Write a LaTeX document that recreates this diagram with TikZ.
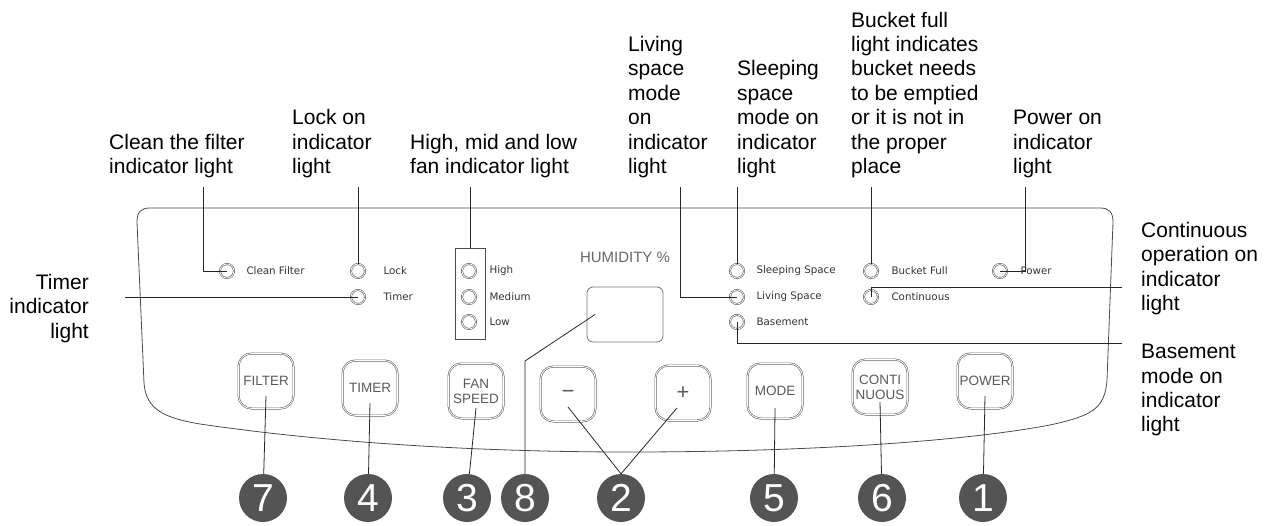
\documentclass[tikz,border=0pt]{standalone}
\usepackage{fontspec}
\setmainfont{Liberation Sans}
\newfontfamily\panelfont{DejaVu Sans}
\usetikzlibrary{positioning}

\begin{document}
\begin{tikzpicture}[x=1pt,y=-1pt,
    lbl/.style={font=\fontsize{21}{24.4}\selectfont,align=left,inner sep=0pt},
    led/.style={circle,draw=black!65,line width=0.6pt,double=white,double distance=0.7pt,minimum size=14pt,inner sep=0pt},
    ledtxt/.style={font=\panelfont\fontsize{10.3}{12}\selectfont,text=black!80,inner sep=0pt},
    btn/.style={draw=black!60,line width=0.6pt,double=white,double distance=0.8pt,rounded corners=13pt,
      minimum width=55pt,minimum height=55pt,align=center,inner sep=0pt,text=black!65,
      font=\fontsize{13.5}{16}\selectfont},
    num/.style={circle,fill=black!67,text=white,minimum size=48pt,inner sep=0pt,font=\fontsize{39}{39}\selectfont},
    lead/.style={draw=black!85,line width=0.8pt}]
  \useasboundingbox (0,0) rectangle (1268,525);
  % Panel outline
  \draw[black!70,line width=0.8pt] (137,222) -- (144,383)
    .. controls (146,410) and (165,418) .. (200,424)
    .. controls (330,443) and (480,452) .. (630,452)
    .. controls (800,452) and (960,442) .. (1050,425)
    .. controls (1090,416) and (1105,410) .. (1107,380)
    -- (1113,222) .. controls (1113,212) and (1109,208) .. (1100,208)
    -- (150,208) .. controls (141,208) and (137,212) .. (137,222) -- cycle;
  % Callout texts
  \node[lbl,anchor=south west] (cleanlbl) at (109,178) {Clean the filter\\indicator light};
  \node[lbl,anchor=south west] (locklbl) at (292,178) {Lock on\\indicator\\light};
  \node[lbl,anchor=south west] (fanlbl) at (410,178) {High, mid and low\\fan indicator light};
  \node[lbl,anchor=south west] (livinglbl) at (628,178) {Living\\space\\mode\\on\\indicator\\light};
  \node[lbl,anchor=south west] (sleeplbl) at (737,178) {Sleeping\\space\\mode on\\indicator\\light};
  \node[lbl,anchor=south west] (bucketlbl) at (851,178) {Bucket full\\light indicates\\bucket needs\\to be emptied\\or it is not in\\the proper\\place};
  \node[lbl,anchor=south west] (powerlbl) at (1013,178) {Power on\\indicator\\light};
  \node[lbl,align=right,anchor=north east] (timerlbl) at (89,274) {Timer\\indicator\\light};
  \node[lbl,anchor=north west] (contlbl) at (1141,222) {Continuous\\operation on\\indicator\\light};
  \node[lbl,anchor=north west] (baselbl) at (1141,344) {Basement\\mode on\\indicator\\light};
  % Indicator lights
  \node[led] (cleanled) at (227,271) {};
  \node[led] (lockled) at (358,271) {};
  \node[led] (timerled) at (358,297) {};
  \node[draw=black!70,line width=0.8pt,minimum width=30pt,minimum height=91pt,inner sep=0pt] (fanbox) at (470,293.5) {};
  \node[led] (highled) at (469,271) {};
  \node[led] (medled) at (469,297) {};
  \node[led] (lowled) at (469,322) {};
  \node[led] (sleepled) at (737,271) {};
  \node[led] (livingled) at (737,297) {};
  \node[led] (baseled) at (737,322) {};
  \node[led] (bucketled) at (871,271) {};
  \node[led] (contled) at (871,297) {};
  \node[led] (powerled) at (1000,271) {};
  \node[ledtxt,right=12pt of cleanled] {Clean Filter};
  \node[ledtxt,right=18pt of lockled] {Lock};
  \node[ledtxt,right=18pt of timerled] {Timer};
  \node[ledtxt,right=13pt of highled] {High};
  \node[ledtxt,right=13pt of medled] {Medium};
  \node[ledtxt,right=13pt of lowled] {Low};
  \node[ledtxt,right=12pt of sleepled] {Sleeping Space};
  \node[ledtxt,right=12pt of livingled] {Living Space};
  \node[ledtxt,right=12pt of baseled] {Basement};
  \node[ledtxt,right=13pt of bucketled] {Bucket Full};
  \node[ledtxt,right=13pt of contled] {Continuous};
  \node[ledtxt,right=13pt of powerled] {Power};
  \node[text=black!60,font=\fontsize{15}{15}\selectfont,inner sep=0pt] (humid) at (625,257) {HUMIDITY \%};
  \node[draw=black!55,line width=0.8pt,rounded corners=6pt,minimum width=76pt,minimum height=55pt] (disp) at (625,314.5) {};
  % Buttons
  \node[btn] (filterbtn) at (266,381) {FILTER};
  \node[btn] (timerbtn) at (370,388) {TIMER};
  \node[btn,font=\fontsize{13.5}{15}\selectfont] (fanbtn) at (476,391) {FAN\\SPEED};
  \node[btn,font=\fontsize{22}{22}\selectfont] (minusbtn) at (568,394) {−};
  \node[btn,font=\fontsize{22}{22}\selectfont] (plusbtn) at (683,393) {+};
  \node[btn] (modebtn) at (775,391) {MODE};
  \node[btn,font=\fontsize{13.5}{15}\selectfont] (contbtn) at (880,387) {CONTI\\NUOUS};
  \node[btn] (powerbtn) at (985,381) {POWER};
  % Numbered markers
  \node[num] (n7) at (263,498) {7};
  \node[num] (n4) at (368,498) {4};
  \node[num] (n3) at (467,498) {3};
  \node[num] (n8) at (525,498) {8};
  \node[num] (n2) at (621,498) {2};
  \node[num] (n5) at (774,498) {5};
  \node[num] (n6) at (882,498) {6};
  \node[num] (n1) at (983,498) {1};
  % Leader lines
  \coordinate (cleantop) at (203,187);
  \coordinate (locktop) at (358,187);
  \coordinate (fantop) at (470,187);
  \coordinate (livingtop) at (680,187);
  \coordinate (sleeptop) at (737,187);
  \coordinate (buckettop) at (871,187);
  \coordinate (powertop) at (1025,187);
  \coordinate (timerend) at (125,297);
  \coordinate (contend) at (1122,287);
  \coordinate (baseend) at (1122,343);
  \coordinate (bend8) at (525,361);
  \draw[lead] (cleantop) |- (cleanled.center);
  \draw[lead] (locktop) -- (lockled);
  \draw[lead] (fantop) -- (fanbox);
  \draw[lead] (livingtop) |- (livingled.center);
  \draw[lead] (sleeptop) -- (sleepled);
  \draw[lead] (buckettop) -- (bucketled);
  \draw[lead] (powertop) |- (powerled.center);
  \draw[lead] (timerend) -- (timerled.center);
  \draw[lead] (contled.center) |- (contend);
  \draw[lead] (baseled.center) |- (baseend);
  \draw[lead] ([xshift=-30pt]disp.center) -- (bend8) -- (n8);
  \draw[lead] ([yshift=-15pt]filterbtn.center) -- (n7);
  \draw[lead] ([yshift=-15pt]timerbtn.center) -- (n4);
  \draw[lead] ([yshift=-17pt]fanbtn.center) -- (n3);
  \draw[lead] ([yshift=-13pt]minusbtn.center) -- (n2.north) -- ([shift={(-6pt,-15pt)}]plusbtn.center);
  \draw[lead] ([yshift=-17pt]modebtn.center) -- (n5);
  \draw[lead] ([yshift=-15pt]contbtn.center) -- (n6);
  \draw[lead] ([yshift=-15pt]powerbtn.center) -- (n1);
\end{tikzpicture}
\end{document}
